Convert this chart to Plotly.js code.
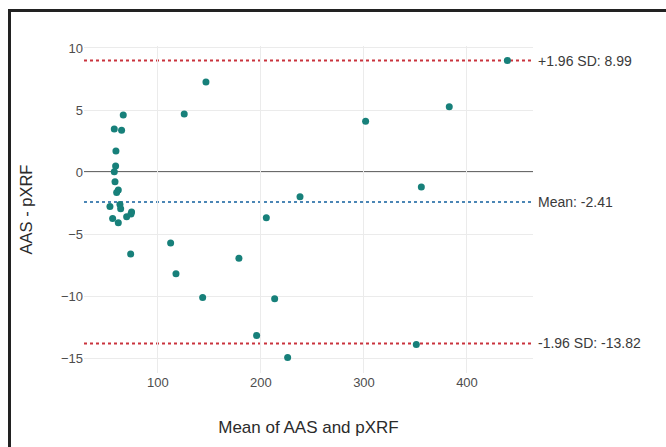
<!DOCTYPE html>
<html>
<head>
<meta charset="utf-8">
<script src="https://cdn.plot.ly/plotly-3.0.1.min.js"></script>
<style>
  html, body { margin: 0; padding: 0; background: #fff; }
  #wrap { position: relative; width: 666px; height: 447px; overflow: hidden; }
  #chart { width: 666px; height: 447px; }
  #frame { position: absolute; left: 8px; top: 9px; width: 700px; height: 500px;
           border-left: 3px solid #222; border-top: 3px solid #222; pointer-events: none; }
</style>
</head>
<body>
<div id="wrap">
  <div id="chart"></div>
  <div id="frame"></div>
</div>
<script>
// Mean of AAS and pXRF (x) and difference AAS - pXRF (y)
const meanValues = [
  66.3, 57.6, 64.7, 59.2, 58.9, 57.6, 58.3, 61.5, 59.9, 53.4, 63.1, 63.8, 74.4, 69.6, 73.8, 56.0, 61.5, 73.5,
  146.6, 125.5, 301.6, 382.8, 355.7, 237.9, 205.2, 112.3, 117.5, 178.6, 143.4, 213.3, 195.8, 350.8, 225.9, 439.2
];
const diffValues = [
  4.60, 3.47, 3.36, 1.69, 0.48, 0.03, -0.78, -1.45, -1.64, -2.77, -2.61, -2.96, -3.23, -3.60, -3.39, -3.74, -4.09, -6.61,
  7.26, 4.68, 4.09, 5.27, -1.21, -1.99, -3.68, -5.73, -8.20, -6.94, -10.11, -10.21, -13.17, -13.90, -14.95, 8.99
];
const limitNames = ["+1.96 SD: 8.99", "Mean: -2.41", "-1.96 SD: -13.82"];
const limitValues = [8.99, -2.41, -13.82];
const limitColors = ["#c9333d", "#4b86b5", "#c9333d"];
const zeroValue = 0;
const xTicks = [100, 200, 300, 400];
const yTicks = [-15, -10, -5, 0, 5, 10];

const FONT = "Liberation Sans, Arial, sans-serif";

const shapes = [{
  type: "line", xref: "paper", x0: 0, x1: 1, yref: "y", y0: zeroValue, y1: zeroValue,
  line: {color: "#6a6a6a", width: 2}, layer: "below"
}];
limitValues.forEach((v, i) => {
  shapes.push({
    type: "line", xref: "paper", x0: 0, x1: 1, yref: "y", y0: v, y1: v,
    line: {color: limitColors[i], width: 2, dash: "dot"}, layer: "below"
  });
});

const annotations = limitValues.map((v, i) => ({
  xref: "paper", x: 1, xanchor: "left", xshift: 3,
  yref: "y", y: v, yanchor: "middle",
  text: limitNames[i], showarrow: false,
  font: {family: FONT, size: 14, color: "#3a3a3a"}
}));

const trace = {
  type: "scatter", mode: "markers",
  x: meanValues, y: diffValues,
  marker: {color: "#17807a", size: 7},
  hoverinfo: "x+y", showlegend: false
};

const layout = {
  width: 666, height: 447,
  margin: {l: 84, r: 133, t: 46, b: 74},
  paper_bgcolor: "#ffffff", plot_bgcolor: "#ffffff",
  font: {family: FONT, color: "#4d4d4d"},
  xaxis: {
    range: [28.2, 464.1], tickvals: xTicks, ticktext: xTicks.map(String),
    showgrid: true, gridcolor: "#ebebeb", gridwidth: 1, zeroline: false, showline: false,
    ticks: "", tickfont: {family: FONT, size: 13, color: "#4d4d4d"},
    title: {text: "Mean of AAS and pXRF", font: {family: FONT, size: 17, color: "#2b2b2b"}, standoff: 32}
  },
  yaxis: {
    range: [-16.2, 10.16], tickvals: yTicks, ticktext: yTicks.map(v => v < 0 ? "\u2212" + Math.abs(v) : String(v)),
    showgrid: true, gridcolor: "#ebebeb", gridwidth: 1, zeroline: false, showline: false,
    ticks: "", tickfont: {family: FONT, size: 13, color: "#4d4d4d"},
    title: {text: "AAS - pXRF", font: {family: FONT, size: 16.5, color: "#2b2b2b"}, standoff: 24}
  },
  shapes: shapes,
  annotations: annotations
};

Plotly.newPlot("chart", [trace], layout, {displayModeBar: false, staticPlot: true});
</script>
</body>
</html>
